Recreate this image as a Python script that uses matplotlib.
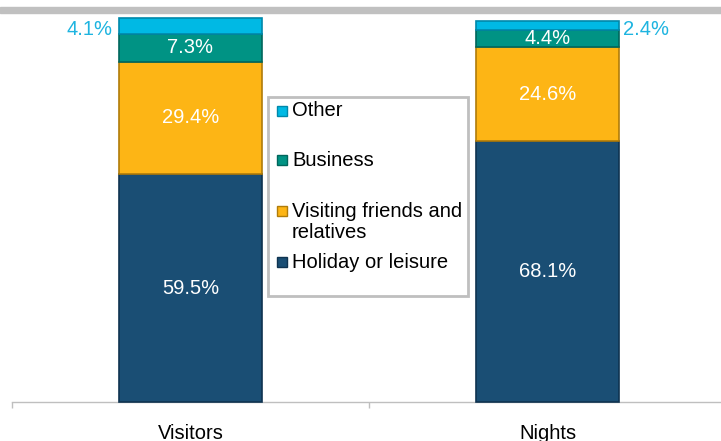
#/usr/bin/python3

import matplotlib
matplotlib.use('Agg')
import matplotlib.pyplot as plt
from matplotlib.patches import Rectangle

plt.rcParams['font.family'] = ['Liberation Sans', 'DejaVu Sans']

categories = ['Visitors', 'Nights']
purposes = ['Holiday or leisure', 'Visiting friends and\nrelatives', 'Business', 'Other']
holiday = [59.5, 68.1]
vfr = [29.4, 24.6]
business = [7.3, 4.4]
other = [4.1, 2.4]

colors = ['#1a4e74', '#fdb515', '#009384', '#00b9e4']
edges = ['#0f3350', '#b07c0a', '#00665c', '#0088aa']
FS = 14.5


def main():
    W, H = 721, 441
    fig = plt.figure(figsize=(W / 100, H / 100), dpi=100)

    # gray rule under the (cut off) title
    fig.patches.append(Rectangle((0, 1 - 13 / H), 1, 6 / H, transform=fig.transFigure,
                                 color='#c0c0c0', zorder=0))

    left, right, bottom, top = 12, 726, 402, 19
    ax = fig.add_axes([left / W, 1 - bottom / H, (right - left) / W, (bottom - top) / H])

    x = range(len(categories))
    series = [holiday, vfr, business, other]
    base = [0, 0]
    for vals, c, ec, name in zip(series, colors, edges, purposes):
        ax.bar(x, vals, width=0.4, bottom=base, color=c, edgecolor=ec, linewidth=1.2,
               label=name, clip_on=False, zorder=3)
        base = [b + v for b, v in zip(base, vals)]

    # labels inside bars
    for i in x:
        b = 0
        for vals in series[:3]:
            v = vals[i]
            ax.text(i, b + v / 2, f'{v:.1f}%', ha='center', va='center', color='white',
                    fontsize=FS, zorder=4)
            b += v
    # "Other" labels outside
    ax.text(0 - 0.218, holiday[0] + vfr[0] + business[0] + other[0] / 2 - 1,
            f'{other[0]:.1f}%', ha='right', va='center', color='#1eb4e0', fontsize=FS)
    ax.text(1 + 0.212, holiday[1] + vfr[1] + business[1] + other[1] / 2 - 1,
            f'{other[1]:.1f}%', ha='left', va='center', color='#1eb4e0', fontsize=FS)

    ax.set_xlim(-0.5, 1.5)
    ax.set_ylim(0, 100)
    ax.set_yticks([])
    ax.set_xticks(list(x))
    ax.set_xticklabels(categories, fontsize=FS)
    ax.set_xticks([-0.5, 0.5, 1.5], minor=True)
    ax.tick_params(axis='x', which='major', length=0, pad=15.5)
    ax.tick_params(axis='x', which='minor', length=4, color='#bfbfbf', width=1)
    for s in ['left', 'right', 'top']:
        ax.spines[s].set_visible(False)
    ax.spines['bottom'].set_color('#bfbfbf')
    ax.spines['bottom'].set_linewidth(1)
    ax.set_facecolor('none')

    # legend box, drawn by hand to follow the reference spacing
    def fx(px):
        return px / W

    def fy(py):
        return 1 - py / H

    fig.patches.append(Rectangle((fx(268), fy(296)), (468 - 268) / W, (296 - 97) / H,
                                 transform=fig.transFigure, facecolor='white',
                                 edgecolor='#bfbfbf', linewidth=2, zorder=5))
    rows = [('Other', 111, 111), ('Business', 160, 160),
            ('Visiting friends and\nrelatives', 222, 211), ('Holiday or leisure', 262, 262)]
    for (name, ty, sy), c, ec in zip(rows, colors[::-1], edges[::-1]):
        fig.patches.append(Rectangle((fx(277), fy(sy + 5)), 10 / W, 10 / H,
                                     transform=fig.transFigure, facecolor=c,
                                     edgecolor=ec, linewidth=1, zorder=6))
        fig.text(fx(292), fy(ty), name, ha='left', va='center', fontsize=FS,
                 linespacing=1.1, zorder=6)

    fig.savefig('out.png', dpi=100)


if __name__ == '__main__':
    main()
